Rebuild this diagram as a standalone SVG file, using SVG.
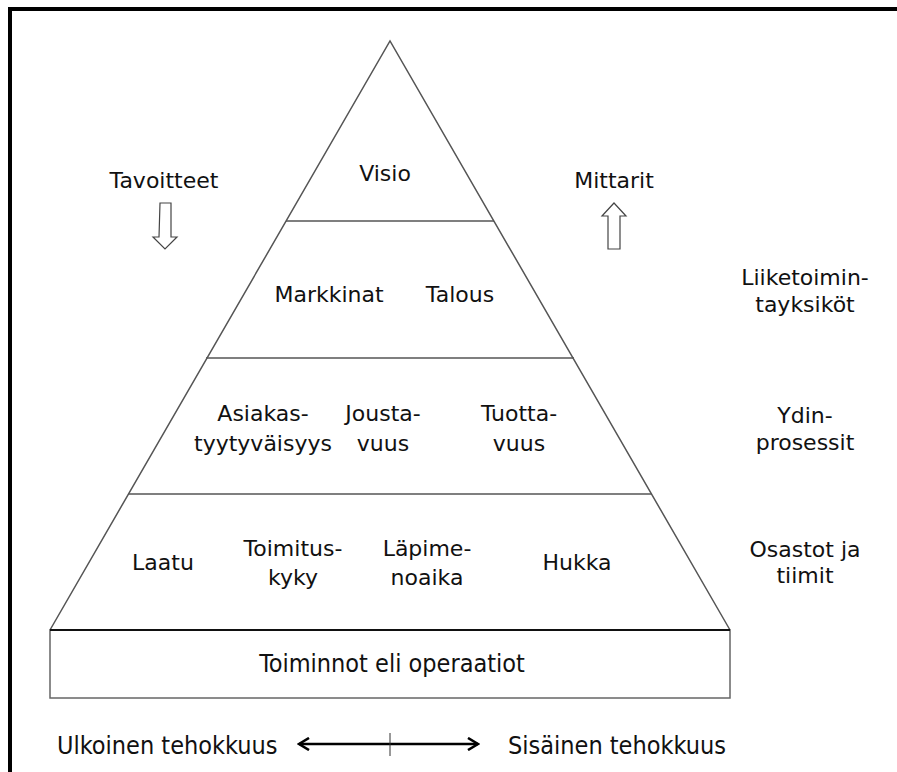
<svg xmlns="http://www.w3.org/2000/svg" width="897" height="772" viewBox="0 0 897 772">
  <style>
    .lbl { font-family: "DejaVu Sans", "Liberation Sans", sans-serif; font-size: 22px; fill: #111; text-anchor: middle; }
    .cond { font-family: "DejaVu Sans Condensed", "DejaVu Sans", sans-serif; font-stretch: condensed; font-size: 25px; fill: #111; }
    .edge { stroke: #555; stroke-width: 1.5; fill: none; }
    .hollow { fill: #fff; stroke: #444; stroke-width: 1.2; }
  </style>
  <defs>
    <marker id="head" viewBox="0 0 14 14" refX="12" refY="7" markerWidth="14" markerHeight="14" orient="auto-start-reverse" markerUnits="userSpaceOnUse">
      <path d="M2,1 L12,7 L2,13" fill="none" stroke="#000" stroke-width="2.6" stroke-linejoin="miter"/>
    </marker>
  </defs>
  <rect width="897" height="772" fill="#fff"/>

  <!-- frame: top and left edges only -->
  <g id="frame">
    <line x1="8" y1="9" x2="897" y2="9" stroke="#000" stroke-width="4"/>
    <line x1="10" y1="7" x2="10" y2="772" stroke="#000" stroke-width="4"/>
  </g>

  <!-- pyramid outline and level separators -->
  <g id="pyramid">
    <polyline class="edge" points="50,630 390,41 730,630"/>
    <line class="edge" x1="286" y1="221" x2="494" y2="221"/>
    <line class="edge" x1="206" y1="358" x2="574" y2="358"/>
    <line class="edge" x1="128" y1="494" x2="652" y2="494"/>
  </g>

  <!-- base block -->
  <g id="operations">
    <rect x="50" y="630" width="680" height="68" fill="#fff" stroke="#666" stroke-width="1.5"/>
    <line x1="50" y1="630" x2="730" y2="630" stroke="#111" stroke-width="2"/>
    <text class="cond" x="392" y="672" text-anchor="middle">Toiminnot eli operaatiot</text>
  </g>

  <g id="level-vision">
    <text class="lbl" x="385" y="181">Visio</text>
  </g>
  <g id="level-units">
    <text class="lbl" x="329" y="302">Markkinat</text>
    <text class="lbl" x="460" y="302">Talous</text>
  </g>
  <g id="level-processes">
    <text class="lbl" x="263" y="421">Asiakas-</text>
    <text class="lbl" x="263" y="451">tyytyväisyys</text>
    <text class="lbl" x="383" y="421">Jousta-</text>
    <text class="lbl" x="383" y="451">vuus</text>
    <text class="lbl" x="519" y="421">Tuotta-</text>
    <text class="lbl" x="519" y="451">vuus</text>
  </g>
  <g id="level-teams">
    <text class="lbl" x="163" y="570">Laatu</text>
    <text class="lbl" x="293" y="556">Toimitus-</text>
    <text class="lbl" x="293" y="585">kyky</text>
    <text class="lbl" x="427" y="556">Läpime-</text>
    <text class="lbl" x="427" y="585">noaika</text>
    <text class="lbl" x="577" y="570">Hukka</text>
  </g>

  <!-- side labels -->
  <g id="goals">
    <text class="lbl" x="164" y="188">Tavoitteet</text>
    <path class="hollow" d="M160,203 H171 V237 H177 L165,249 L153,237 H159 Z"/>
  </g>
  <g id="metrics">
    <text class="lbl" x="614" y="188">Mittarit</text>
    <path class="hollow" d="M614,203 L626,216 H620 V249 H608 V216 H602 Z"/>
  </g>
  <g id="org-levels">
    <text class="lbl" x="805" y="285">Liiketoimin-</text>
    <text class="lbl" x="805" y="312">tayksiköt</text>
    <text class="lbl" x="805" y="423">Ydin-</text>
    <text class="lbl" x="805" y="450">prosessit</text>
    <text class="lbl" x="805" y="557">Osastot ja</text>
    <text class="lbl" x="805" y="583">tiimit</text>
  </g>

  <!-- efficiency axis -->
  <g id="efficiency">
    <text class="cond" x="57" y="754">Ulkoinen tehokkuus</text>
    <text class="cond" x="508" y="754">Sisäinen tehokkuus</text>
  </g>
  <g id="connectors">
    <line x1="299" y1="744" x2="478" y2="744" stroke="#000" stroke-width="2.4" marker-start="url(#head)" marker-end="url(#head)"/>
    <line x1="390" y1="733" x2="390" y2="756" stroke="#333" stroke-width="1"/>
  </g>
</svg>
